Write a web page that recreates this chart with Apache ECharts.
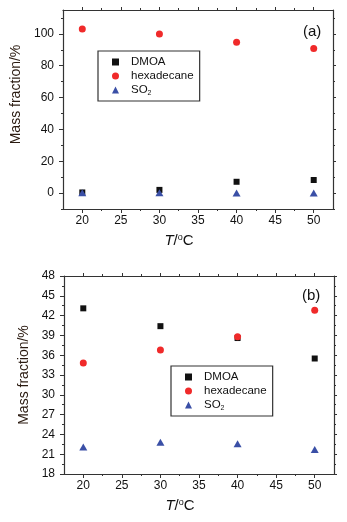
<!DOCTYPE html>
<html>
<head>
<meta charset="utf-8">
<script src="https://cdn.jsdelivr.net/npm/echarts@6/dist/echarts.min.js"></script>
<style>
  html, body { margin: 0; padding: 0; background: #fff; }
  #chart { width: 347px; height: 522px; }
</style>
</head>
<body>
<div id="chart"></div>
<script>
// temperatures (x) shared by both panels
const temps = [20, 30, 40, 50]
// panel (a)
const dmoaA = [0.4, 2.0, 7.1, 8.2]
const hexA = [103.0, 100.0, 94.8, 90.8]
const so2A = [0.2, 0.2, 0.1, 0.1]
// panel (b)
const dmoaB = [43.1, 40.4, 38.6, 35.5]
const hexB = [34.8, 36.8, 38.8, 42.8]
const so2B = [22.1, 22.8, 22.6, 21.7]
// tick labels
const xTicks = [20, 25, 30, 35, 40, 45, 50]
const yTicksA = [0, 20, 40, 60, 80, 100]
const yTicksB = [18, 21, 24, 27, 30, 33, 36, 39, 42, 45, 48]

const font = 'Arial, "Liberation Sans", sans-serif'
const lineColor = '#333'

// minor ticks halfway between majors
function mids (arr) {
  let out = []
  for (let i = 0; i < arr.length - 1; i++) out.push((arr[i] + arr[i + 1]) / 2)
  return out
}

// one axis: major ticks (with line/labels) or minor ticks only
function axis (gridIndex, position, min, max, values, major, labels) {
  let outer = (position === 'top' || position === 'right')
  return {
    type: 'value',
    gridIndex: gridIndex,
    position: position,
    min: min,
    max: max,
    axisLine: { show: major, onZero: false, lineStyle: { color: lineColor, width: 1.2 } },
    axisTick: {
      show: true,
      inside: false,
      length: major ? (outer ? 3 : 4) : 2,
      customValues: values,
      lineStyle: { color: lineColor, width: 1 }
    },
    axisLabel: {
      show: !!labels,
      customValues: values,
      color: '#111',
      fontFamily: font,
      fontSize: 12,
      margin: position === 'left' ? 9 : 6
    },
    splitLine: { show: false }
  }
}

let xAxes = []
let yAxes = []
;[0, 1].forEach(function (g) {
  let yTicks = g === 0 ? yTicksA : yTicksB
  let ymin = g === 0 ? -10 : 18
  let ymax = g === 0 ? 115 : 48
  let yMinor = g === 0 ? [-10].concat(mids(yTicksA), [110]) : mids(yTicksB)
  let xMinor = mids(xTicks)
  let xb = axis(g, 'bottom', 17.5, 52.5, xTicks, true, true)
  xb.name = '{i|T}/{s|o}C'
  xb.nameLocation = 'middle'
  xb.nameGap = 24
  xb.nameTextStyle = {
    color: '#111', fontFamily: font, fontSize: 15, padding: [0, 38, 0, 0],
    rich: {
      i: { fontStyle: 'italic', fontSize: 15, fontFamily: font, color: '#111' },
      s: { fontSize: 9, fontFamily: font, color: '#111', padding: [0, 0, 7, 0] }
    }
  }
  xAxes.push(xb)
  xAxes.push(axis(g, 'bottom', 17.5, 52.5, xMinor, false, false))
  xAxes.push(axis(g, 'top', 17.5, 52.5, xTicks, true, false))
  xAxes.push(axis(g, 'top', 17.5, 52.5, xMinor, false, false))

  let yl = axis(g, 'left', ymin, ymax, yTicks, true, true)
  yl.name = 'Mass fraction/%'
  yl.nameLocation = 'middle'
  yl.nameGap = 31
  yl.nameTextStyle = {
    color: '#2a1a10', fontFamily: font, fontSize: 14,
    padding: g === 0 ? [0, 0, 0, 30] : 0
  }
  yAxes.push(yl)
  yAxes.push(axis(g, 'left', ymin, ymax, yMinor, false, false))
  yAxes.push(axis(g, 'right', ymin, ymax, yTicks, true, false))
  yAxes.push(axis(g, 'right', ymin, ymax, yMinor, false, false))
})

function pairs (ys) {
  return temps.map(function (t, i) { return [t, ys[i]] })
}

function scatter (name, g, ys, symbol, size, color) {
  return {
    name: name,
    type: 'scatter',
    xAxisIndex: g * 4,
    yAxisIndex: g * 4,
    symbol: symbol,
    symbolSize: size,
    itemStyle: { color: color, opacity: 1 },
    data: pairs(ys)
  }
}

const black = '#111111'
const red = '#f02a2a'
const blue = '#3a4fa6'

function legend (left, top) {
  return {
    orient: 'vertical',
    left: left,
    top: top,
    padding: [4, 6, 4, 14],
    itemGap: 0,
    itemWidth: 7,
    itemHeight: 7,
    borderColor: '#333',
    borderWidth: 1.2,
    backgroundColor: '#fff',
    selectedMode: false,
    formatter: function (name) {
      return name === 'SO2' ? 'SO{sub|2}' : name
    },
    textStyle: {
      color: '#111',
      fontFamily: font,
      fontSize: 11.5,
      lineHeight: 14,
      padding: [0, 0, 0, 7],
      rich: {
        sub: { fontSize: 7, fontFamily: font, color: '#111', padding: [6, 0, 0, 0] }
      }
    },
    data: [
      { name: 'DMOA', icon: 'rect' },
      { name: 'hexadecane', icon: 'circle' },
      { name: 'SO2', icon: 'triangle' }
    ]
  }
}

const option = {
  animation: false,
  backgroundColor: '#fff',
  title: [
    { text: '(a)', left: 298, top: 19, textStyle: { fontFamily: font, fontSize: 15, fontWeight: 'normal', color: '#111' } },
    { text: '(b)', left: 297, top: 283, textStyle: { fontFamily: font, fontSize: 15, fontWeight: 'normal', color: '#111' } }
  ],
  grid: [
    { left: 63, top: 10, width: 270, height: 199 },
    { left: 64, top: 276, width: 270, height: 198 }
  ],
  legend: [legend(98, 51), legend(171, 366)],
  xAxis: xAxes,
  yAxis: yAxes,
  series: [
    scatter('DMOA', 0, dmoaA, 'rect', 6, black),
    scatter('hexadecane', 0, hexA, 'circle', 7, red),
    scatter('SO2', 0, so2A, 'triangle', [8, 7], blue),
    scatter('DMOA', 1, dmoaB, 'rect', 6, black),
    scatter('hexadecane', 1, hexB, 'circle', 7, red),
    scatter('SO2', 1, so2B, 'triangle', [8, 7], blue)
  ]
}

const chart = echarts.init(document.getElementById('chart'))
chart.setOption(option)
</script>
</body>
</html>
